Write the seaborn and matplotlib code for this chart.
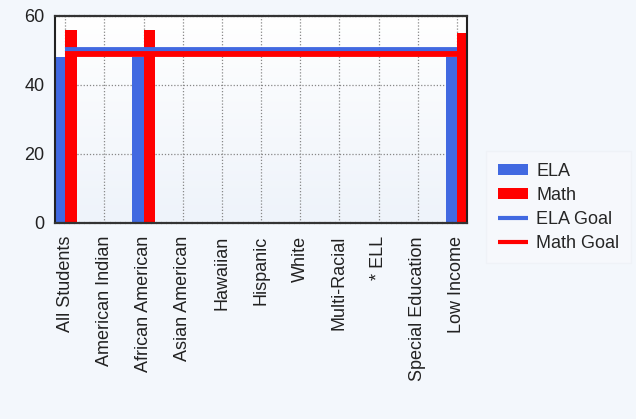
import numpy as np
import pandas as pd
import matplotlib
matplotlib.use("Agg")
import matplotlib.pyplot as plt
from matplotlib.patches import Patch
from matplotlib.lines import Line2D
import seaborn as sns

categories = ["All Students", "American Indian", "African American", "Asian American",
              "Hawaiian", "Hispanic", "White", "Multi-Racial", "* ELL",
              "Special Education", "Low Income"]
ela = [48, np.nan, 48, np.nan, np.nan, np.nan, np.nan, np.nan, np.nan, np.nan, 48]
math = [56, np.nan, 56, np.nan, np.nan, np.nan, np.nan, np.nan, np.nan, np.nan, 55]
ela_goal = 50
math_goal = 49
yticks = [0, 20, 40, 60]

BLUE = "#4169e1"
RED = "#ff0000"

sns.set_theme(style="white")
plt.rcParams["font.family"] = ["Liberation Sans", "DejaVu Sans"]

df = pd.DataFrame({
    "group": categories * 2,
    "subject": ["ELA"] * len(categories) + ["Math"] * len(categories),
    "value": ela + math,
})

fig = plt.figure(figsize=(6.36, 4.19), dpi=100)
fig.patch.set_facecolor("#f3f7fc")
ax = fig.add_axes([0.0865, 0.468, 0.648, 0.494])

# soft vertical gradient behind the plot area
grad = np.linspace(1, 0, 256).reshape(-1, 1)
ax.imshow(grad, extent=[0, 1, 0, 1], transform=ax.transAxes, aspect="auto",
          cmap=matplotlib.colors.LinearSegmentedColormap.from_list(
              "bg", ["#eef3fa", "#ffffff"]), zorder=-5)

sns.barplot(data=df, x="group", y="value", hue="subject", order=categories,
            hue_order=["ELA", "Math"], palette=[BLUE, RED], width=0.58,
            saturation=1, linewidth=0, ax=ax, legend=False, zorder=2)

xpos = np.arange(len(categories))
sns.lineplot(x=xpos, y=[ela_goal] * len(categories), color=BLUE, lw=4.2,
             solid_capstyle="butt", ax=ax, zorder=3)
sns.lineplot(x=xpos, y=[math_goal] * len(categories), color=RED, lw=4.2,
             solid_capstyle="butt", ax=ax, zorder=4)

ax.set_xlim(-0.26, 10.26)
ax.set_ylim(0, 60)
ax.set_yticks(yticks)
ax.set_yticklabels([str(t) for t in yticks], fontsize=13, color="#222222")
ax.set_xticks(xpos)
ax.set_xticklabels(categories, rotation=90, fontsize=13, color="#222222")
ax.set_xlabel("")
ax.set_ylabel("")
ax.tick_params(axis="y", length=6, width=0.8, color="#888888", pad=1.5)
ax.tick_params(axis="x", length=0, pad=9.5)

ax.grid(True, which="major", axis="both", color="#888888", linestyle=(0, (1, 1.5)),
        linewidth=0.9, zorder=0)
ax.set_axisbelow(True)

for side in ["left", "right"]:
    ax.spines[side].set_visible(True)
    ax.spines[side].set_color("#222222")
    ax.spines[side].set_linewidth(1.5)
for side in ["top", "bottom"]:
    ax.spines[side].set_visible(True)
    ax.spines[side].set_color("#333333")
    ax.spines[side].set_linewidth(1.6)
    ax.spines[side].set_linestyle((0, (1.5, 0.8)))

handles = [
    Patch(facecolor=BLUE, edgecolor="none", label="ELA"),
    Patch(facecolor=RED, edgecolor="none", label="Math"),
    Line2D([0], [0], color=BLUE, lw=3, solid_capstyle="butt", label="ELA Goal"),
    Line2D([0], [0], color=RED, lw=3, solid_capstyle="butt", label="Math Goal"),
]
leg = fig.legend(handles=handles, loc="center left", bbox_to_anchor=(0.773, 0.505),
                 borderaxespad=0, frameon=True, fontsize=13, handlelength=1.67,
                 handleheight=0.6, handletextpad=0.45, labelspacing=0.38,
                 borderpad=0.35)
leg.get_frame().set_facecolor("#f7f9fd")
leg.get_frame().set_edgecolor("#eef1f6")
leg.get_frame().set_boxstyle("square")

fig.savefig("out.png", dpi=100, facecolor=fig.get_facecolor())
